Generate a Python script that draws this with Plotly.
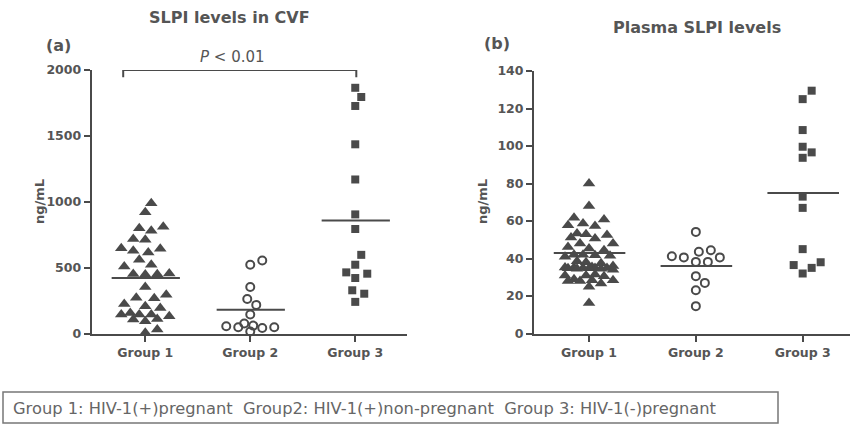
import plotly.graph_objects as go
import math

# ---------------- data ----------------
groups = ["Group 1", "Group 2", "Group 3"]

cvf_g1 = [988, 920, 811, 799, 779, 718, 711, 648, 643, 628, 615, 560, 522, 509,
          455, 452, 450, 448, 353, 295, 272, 268, 224, 207, 194, 156, 144, 144,
          144, 131, 111, 106, 93, 30, 5]
cvf_g2 = [554, 522, 353, 262, 217, 144, 76, 60, 55, 48, 48, 42, 15]
cvf_g3 = [1865, 1795, 1727, 1436, 1169, 904, 793, 597, 522, 464, 454, 421,
          328, 302, 240]
cvf_medians = [421, 181, 857]

plasma_g1 = [80, 68, 61.7, 60.8, 58.7, 57.8, 57.3, 53.4, 53, 52.5, 51.2, 50.7,
             48, 48, 46.2, 45.4, 44.4, 42, 42, 41.8, 41.5, 41, 38.5, 38, 37.5,
             36, 35.5, 35.2, 35.2, 35, 35, 35, 34.8, 34.8, 34.5, 34.5, 34,
             31.5, 31, 31, 30.5, 29, 28.4, 28.4, 28, 28, 26.7, 24.9, 16.3]
plasma_g2 = [54.2, 44.4, 43.6, 41.2, 40.6, 40.6, 38.2, 38.2, 30.6, 27, 23.1, 14.6]
plasma_g3 = [129.5, 125, 108.5, 99.6, 96.6, 93.7, 73, 67, 45, 38, 36.5, 35, 32]
plasma_medians = [43, 36, 75]

# ---------------- layout constants ----------------
W, H = 850, 424
GRAY = "#4a4a4a"
TXT = "#555555"
FONT = "DejaVu Sans, Verdana, sans-serif"

A_left, A_right = 91.7, 406.7
B_left, B_right = 534, 850
Y_bot, Y_top_a, Y_top_b = 333.5, 70, 71
a_xr = [0.49, 3.49]
b_xr = [0.485, 3.443]
a_yr = [0, 2000]
b_yr = [0, 140]


def beeswarm(values, px_per_x, px_per_y, diam=10.0, step=3.0, cap=25.0):
    placed = []
    order = sorted(range(len(values)), key=lambda i: values[i])
    result = [0.0] * len(values)
    cands = [0.0]
    k = 1
    while k * step <= cap:
        cands += [k * step, -k * step]
        k += 1
    for i in order:
        ypx = values[i] * px_per_y
        best, best_d = None, -1
        chosen = None
        for c in cands:
            d = min([math.hypot(c - px, ypx - py) for px, py in placed] or [1e9])
            if d >= diam:
                chosen = c
                break
            if d > best_d:
                best, best_d = c, d
        if chosen is None:
            chosen = best
        placed.append((chosen, ypx))
        result[i] = chosen / px_per_x
    return result


a_pxx = (A_right - A_left) / (a_xr[1] - a_xr[0])
a_pxy = (Y_bot - Y_top_a) / (a_yr[1] - a_yr[0])
b_pxx = (B_right - B_left) / (b_xr[1] - b_xr[0])
b_pxy = (Y_bot - Y_top_b) / (b_yr[1] - b_yr[0])

fig = go.Figure()

marker_styles = [
    dict(symbol="triangle-up", size=11, color=GRAY, line=dict(width=0)),
    dict(symbol="circle-open", size=8, color=GRAY, line=dict(width=2, color=GRAY)),
    dict(symbol="square", size=8, color=GRAY, line=dict(width=0)),
]

for data, pxx, pxy, xa, ya in [
        ([cvf_g1, cvf_g2, cvf_g3], a_pxx, a_pxy, "x", "y"),
        ([plasma_g1, plasma_g2, plasma_g3], b_pxx, b_pxy, "x2", "y2")]:
    for gi, vals in enumerate(data):
        offs = beeswarm(vals, pxx, pxy, diam=10.5, step=3.0, cap=25.0)
        xs = [gi + 1 + o for o in offs]
        fig.add_trace(go.Scatter(x=xs, y=vals, mode="markers", xaxis=xa, yaxis=ya,
                                 marker=marker_styles[gi], cliponaxis=False,
                                 showlegend=False, hoverinfo="y"))

shapes = []
for gi, m in enumerate(cvf_medians):
    shapes.append(dict(type="line", xref="x", yref="y", x0=gi + 1 - 0.32, x1=gi + 1 + 0.33,
                       y0=m, y1=m, line=dict(color=GRAY, width=2)))
for gi, m in enumerate(plasma_medians):
    shapes.append(dict(type="line", xref="x2", yref="y2", x0=gi + 1 - 0.33, x1=gi + 1 + 0.34,
                       y0=m, y1=m, line=dict(color=GRAY, width=2)))
shapes.append(dict(type="path", xref="x", yref="y",
                   path="M 0.79 1945 L 0.79 2000 L 3.01 2000 L 3.01 1945",
                   line=dict(color=GRAY, width=2)))
shapes.append(dict(type="rect", xref="paper", yref="paper",
                   x0=3 / W, x1=778 / W, y0=1 - 423 / H, y1=1 - 392 / H,
                   line=dict(color="#777777", width=1.5)))
fig.update_layout(shapes=shapes)


def py(p):
    return 1 - p / H


annots = [
    dict(text="<b>SLPI levels in CVF</b>", x=230 / W, y=py(17), font=dict(size=16, color=TXT)),
    dict(text="<b>Plasma SLPI levels</b>", x=697 / W, y=py(28), font=dict(size=16, color=TXT)),
    dict(text="<b>(a)</b>", x=58 / W, y=py(45), font=dict(size=16, color=TXT)),
    dict(text="<b>(b)</b>", x=497 / W, y=py(44), font=dict(size=16, color=TXT)),
    dict(text="<i>P</i> &lt; 0.01", x=232 / W, y=py(57), font=dict(size=15, color=TXT)),
    dict(text="<b>ng/mL</b>", x=40 / W, y=py(202), textangle=-90, font=dict(size=13, color=TXT)),
    dict(text="<b>ng/mL</b>", x=483 / W, y=py(202), textangle=-90, font=dict(size=13, color=TXT)),
    dict(text="Group 1: HIV-1(+)pregnant&nbsp;&nbsp;Group2: HIV-1(+)non-pregnant&nbsp;&nbsp;Group 3: HIV-1(-)pregnant",
         x=11 / W, y=py(408), xanchor="left", font=dict(size=16.3, color="#666666")),
]
for a in annots:
    a.setdefault("xanchor", "center")
    a.update(xref="paper", yref="paper", yanchor="middle", showarrow=False)
fig.update_layout(annotations=annots)

axis_common = dict(showgrid=False, zeroline=False, showline=True, linecolor=GRAY, linewidth=2,
                   ticks="outside", ticklen=6, tickwidth=2, tickcolor=GRAY, automargin=False,
                   tickfont=dict(size=12.5, color=TXT, family=FONT))

fig.update_layout(
    template="none",
    width=W, height=H, margin=dict(l=0, r=0, t=0, b=0, pad=0, autoexpand=False),
    paper_bgcolor="white", plot_bgcolor="white",
    font=dict(family=FONT, color=TXT),
    xaxis=dict(domain=[A_left / W, A_right / W], range=a_xr, tickvals=[1, 2, 3],
               ticktext=[f"<b>{g}</b>" for g in groups], anchor="y", **axis_common),
    yaxis=dict(domain=[py(Y_bot), py(Y_top_a)], range=a_yr, tickvals=[0, 500, 1000, 1500, 2000],
               ticktext=[f"<b>{v}</b>" for v in [0, 500, 1000, 1500, 2000]], anchor="x", **axis_common),
    xaxis2=dict(domain=[B_left / W, B_right / W], range=b_xr, tickvals=[1, 2, 3],
                ticktext=[f"<b>{g}</b>" for g in groups], anchor="y2", **axis_common),
    yaxis2=dict(domain=[py(Y_bot), py(Y_top_b)], range=b_yr, tickvals=list(range(0, 141, 20)),
                ticktext=[f"<b>{v}</b>" for v in range(0, 141, 20)], anchor="x2", **axis_common),
)

fig.write_html("out.html", config={"displayModeBar": False},
               post_script="document.body.style.margin='0';document.body.style.overflow='hidden';")
